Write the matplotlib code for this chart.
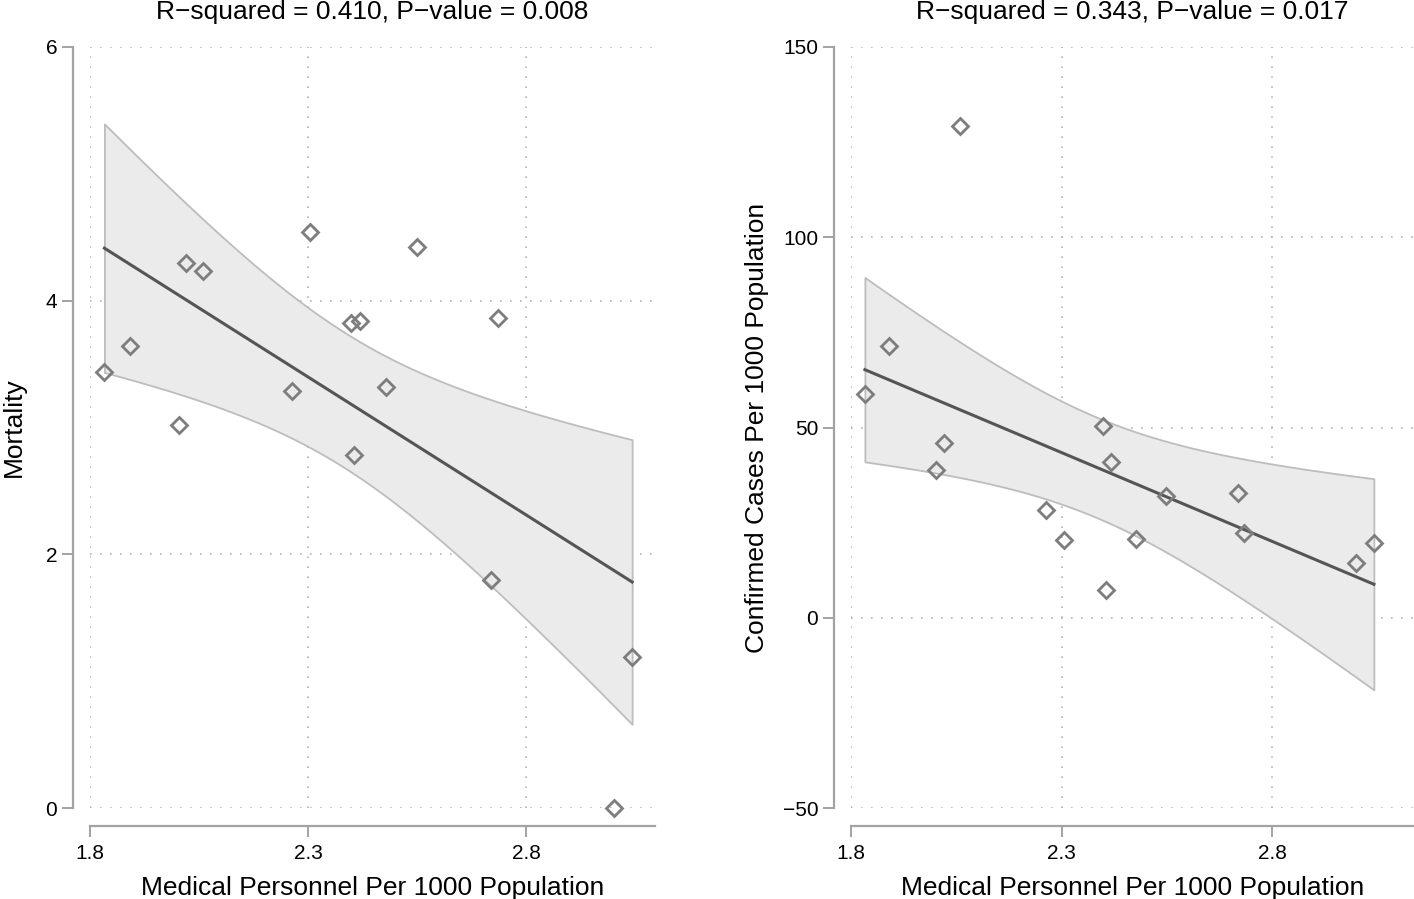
import numpy as np
import matplotlib.pyplot as plt

# medical personnel per 1000 population (same regions in both panels)
personnel = [1.833, 1.891, 2.003, 2.021, 2.060, 2.262, 2.305, 2.398,
             2.405, 2.418, 2.478, 2.548, 2.719, 2.734, 3.000, 3.042]
mortality = [3.44, 3.64, 3.02, 4.30, 4.23, 3.29, 4.54, 3.82,
             2.78, 3.84, 3.32, 4.42, 1.80, 3.86, 0.00, 1.19]
cases = [58.8, 71.4, 38.8, 45.9, 129.2, 28.3, 20.4, 50.4,
         7.3, 40.9, 20.7, 32.0, 32.8, 22.3, 14.4, 19.6]

titles = ["R\u2212squared = 0.410, P\u2212value = 0.008",
          "R\u2212squared = 0.343, P\u2212value = 0.017"]
ylabels = ["Mortality", "Confirmed Cases Per 1000 Population"]
xticks = [1.8, 2.3, 2.8]
yticks_left = [0, 2, 4, 6]
yticks_right = [-50, 0, 50, 100, 150]

plt.rcParams['font.family'] = ['Liberation Sans', 'DejaVu Sans']

SPINE = "#a3a3a3"
GRID = "#b4b4b4"


def fit_ci(x, y, xs, t=2.145):
    x = np.asarray(x)
    y = np.asarray(y)
    n = len(x)
    b, a = np.polyfit(x, y, 1)
    resid = y - (a + b * x)
    s = np.sqrt(np.sum(resid ** 2) / (n - 2))
    sxx = np.sum((x - x.mean()) ** 2)
    fit = a + b * xs
    se = s * np.sqrt(1.0 / n + (xs - x.mean()) ** 2 / sxx)
    return fit, fit - t * se, fit + t * se


def panel(ax, x, y, yticks, xmax, title, ylabel, ylabelpad):
    xs = np.linspace(min(x), max(x), 200)
    fit, lo, hi = fit_ci(x, y, xs)
    ax.fill_between(xs, lo, hi, facecolor="#ebebeb", edgecolor="#bdbdbd",
                    linewidth=1.3, zorder=1)
    ax.plot(xs, fit, color="#555555", linewidth=2.2, zorder=2)
    ax.plot(x, y, linestyle="none", marker="D", markersize=8.3,
            markerfacecolor="none", markeredgecolor="#7d7d7d",
            markeredgewidth=2.0, zorder=3, clip_on=False)

    ax.set_xlim(1.8, xmax)
    ax.set_ylim(yticks[0], yticks[-1])
    ax.set_xticks(xticks)
    ax.set_xticklabels(["1.8", "2.3", "2.8"])
    ax.set_yticks(yticks)
    ax.set_yticklabels([str(v).replace("-", "\u2212") for v in yticks])
    ax.grid(True, color=GRID, linestyle=(0, (1, 5)), linewidth=1.2)
    ax.set_axisbelow(True)

    for side in ["top", "right"]:
        ax.spines[side].set_visible(False)
    ax.spines["left"].set_position(("outward", 12.5))
    ax.spines["bottom"].set_position(("outward", 13))
    ax.spines["left"].set_bounds(yticks[0], yticks[-1])
    ax.spines["bottom"].set_bounds(1.8, xmax)
    for side in ["left", "bottom"]:
        ax.spines[side].set_color(SPINE)
        ax.spines[side].set_linewidth(1.6)
    ax.tick_params(direction="out", length=8, width=1.4, color=SPINE,
                   labelsize=15)
    ax.tick_params(axis="x", pad=5)
    ax.tick_params(axis="y", pad=3)
    ax.set_title(title, fontsize=19, pad=20)
    ax.set_xlabel("Medical Personnel Per 1000 Population", fontsize=19,
                  labelpad=9)
    ax.set_ylabel(ylabel, fontsize=19, labelpad=ylabelpad)


fig = plt.figure(figsize=(14.14, 8.99), dpi=100)
ax1 = fig.add_axes([90 / 1414, 91 / 899, 565 / 1414, 761 / 899])
ax2 = fig.add_axes([851 / 1414, 91 / 899, 563 / 1414, 761 / 899])

panel(ax1, personnel, mortality, yticks_left, 1.8 + 565 / 436.5,
      titles[0], ylabels[0], 14)
panel(ax2, personnel, cases, yticks_right, 1.8 + 563 / 421.0,
      titles[1], ylabels[1], 10)

fig.savefig("out.png", dpi=100)
